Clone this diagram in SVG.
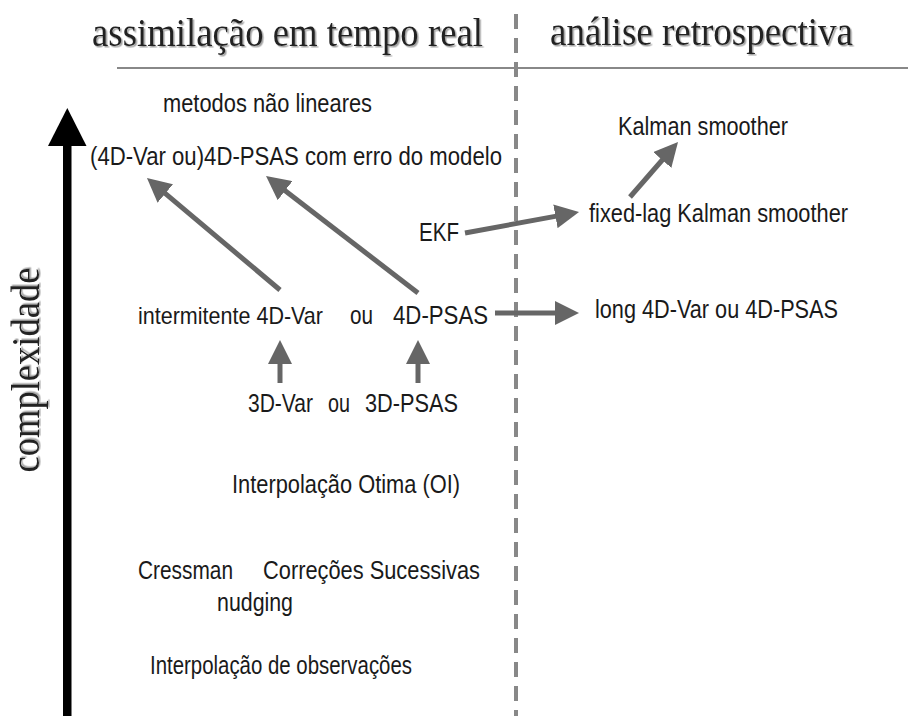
<svg xmlns="http://www.w3.org/2000/svg" width="908" height="716" viewBox="0 0 908 716">
<style>
.t{font-family:"Liberation Sans",Arial,sans-serif;font-size:25px;fill:#1a1a1a}
.h{font-family:"Liberation Serif","Times New Roman",serif;font-size:39px;fill:#222;filter:url(#sh)}
.c{stroke:#666;stroke-width:5;fill:none;marker-end:url(#ah)}
</style>
<defs>
<filter id="sh" x="-5%" y="-20%" width="110%" height="140%">
<feDropShadow dx="1.5" dy="1.5" stdDeviation="0.6" flood-color="#999" flood-opacity="0.9"/>
</filter>
<marker id="ah" viewBox="0 0 24 24" markerWidth="24" markerHeight="24" refX="8" refY="12" orient="auto" markerUnits="userSpaceOnUse">
<path d="M0,0 L24,12 L0,24 z" fill="#666"/>
</marker>
</defs>
<rect width="908" height="716" fill="#fff"/>
<g id="frame">
<line x1="117" y1="68" x2="908" y2="68" stroke="#888" stroke-width="2"/>
<line x1="516" y1="14" x2="516" y2="716" stroke="#888" stroke-width="4" stroke-dasharray="15 9"/>
<text class="h" x="92" y="46" textLength="391" lengthAdjust="spacingAndGlyphs">assimilação em tempo real</text>
<text class="h" x="550" y="45" textLength="303" lengthAdjust="spacingAndGlyphs">análise retrospectiva</text>
</g>
<g id="axis">
<rect x="63" y="144" width="8.5" height="572" fill="#000"/>
<polygon points="67.3,108 48,146 86.5,146" fill="#000"/>
<text class="h" transform="translate(39,370) rotate(-90)" text-anchor="middle" textLength="205" lengthAdjust="spacingAndGlyphs">complexidade</text>
</g>
<g id="connectors">
<line class="c" x1="280" y1="290" x2="159.2" y2="188.3"/>
<line class="c" x1="418" y1="293" x2="278.7" y2="185.8"/>
<line class="c" x1="465" y1="233" x2="563.3" y2="214.9"/>
<line class="c" x1="630" y1="197" x2="667.5" y2="154"/>
<line class="c" x1="280" y1="383" x2="280" y2="356"/>
<line class="c" x1="418" y1="383" x2="418" y2="356"/>
<line class="c" x1="495" y1="313" x2="563" y2="313"/>
</g>
<g id="n-naolineares"><text class="t" x="163" y="112" textLength="209" lengthAdjust="spacingAndGlyphs">metodos não lineares</text></g>
<g id="n-erromodelo"><text class="t" x="90" y="165" textLength="412" lengthAdjust="spacingAndGlyphs">(4D-Var ou)4D-PSAS com erro do modelo</text></g>
<g id="n-kalman"><text class="t" x="618" y="135" textLength="170" lengthAdjust="spacingAndGlyphs">Kalman smoother</text></g>
<g id="n-fixedlag"><text class="t" x="589" y="222" textLength="259" lengthAdjust="spacingAndGlyphs">fixed-lag Kalman smoother</text></g>
<g id="n-ekf"><text class="t" x="419" y="241" textLength="40" lengthAdjust="spacingAndGlyphs">EKF</text></g>
<g id="n-4d">
<text class="t" x="138" y="324" style="font-size:24px" textLength="185" lengthAdjust="spacingAndGlyphs">intermitente 4D-Var</text>
<text class="t" x="350" y="324" textLength="23" lengthAdjust="spacingAndGlyphs">ou</text>
<text class="t" x="393" y="324" textLength="95" lengthAdjust="spacingAndGlyphs">4D-PSAS</text>
</g>
<g id="n-long"><text class="t" x="595" y="318" textLength="243" lengthAdjust="spacingAndGlyphs">long 4D-Var ou 4D-PSAS</text></g>
<g id="n-3d">
<text class="t" x="248" y="412" textLength="65" lengthAdjust="spacingAndGlyphs">3D-Var</text>
<text class="t" x="328" y="412" textLength="22" lengthAdjust="spacingAndGlyphs">ou</text>
<text class="t" x="365" y="412" textLength="93" lengthAdjust="spacingAndGlyphs">3D-PSAS</text>
</g>
<g id="n-oi"><text class="t" x="232" y="493" textLength="228" lengthAdjust="spacingAndGlyphs">Interpolação Otima (OI)</text></g>
<g id="n-cressman">
<text class="t" x="138" y="579" textLength="95" lengthAdjust="spacingAndGlyphs">Cressman</text>
<text class="t" x="263" y="579" textLength="217" lengthAdjust="spacingAndGlyphs">Correções Sucessivas</text>
</g>
<g id="n-nudging"><text class="t" x="217" y="611" textLength="76" lengthAdjust="spacingAndGlyphs">nudging</text></g>
<g id="n-interp"><text class="t" x="150" y="674" textLength="262" lengthAdjust="spacingAndGlyphs">Interpolação de observações</text></g>
</svg>
